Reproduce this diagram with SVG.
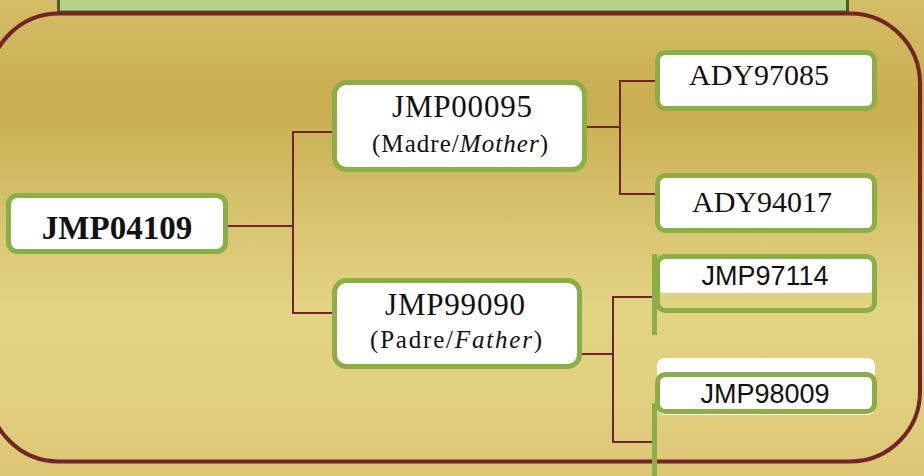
<svg xmlns="http://www.w3.org/2000/svg" width="924" height="476" viewBox="0 0 924 476">
  <defs>
    <linearGradient id="gold" x1="0" y1="0" x2="0" y2="1">
      <stop offset="0" stop-color="#d5bd66"/>
      <stop offset="0.22" stop-color="#c9ad51"/>
      <stop offset="0.45" stop-color="#d7c36e"/>
      <stop offset="0.65" stop-color="#e3d385"/>
      <stop offset="0.85" stop-color="#e1cf7f"/>
      <stop offset="1" stop-color="#dbc675"/>
    </linearGradient>
  </defs>
  <style>
    .box { fill: #ffffff; stroke: #8bae46; stroke-width: 5; }
    .outline { fill: none; stroke: #8bae46; stroke-width: 5; }
    .white { fill: #ffffff; }
    .conn { fill: none; stroke: #722428; stroke-width: 2; }
    .serif { font-family: "Liberation Serif", "Times New Roman", serif; fill: #111111; text-anchor: middle; }
    .sans { font-family: "Liberation Sans", Arial, sans-serif; fill: #111111; text-anchor: middle; }
  </style>

  <g id="background">
    <rect x="0" y="0" width="924" height="476" fill="url(#gold)"/>
    <rect x="58.5" y="-6" width="789" height="18" fill="#b9d28a" stroke="#4b5f2b" stroke-width="3"/>
    <rect x="-11" y="13.5" width="931" height="448" rx="70" ry="70" fill="none" stroke="#722428" stroke-width="4"/>
  </g>

  <g id="connectors">
    <path class="conn" d="M228 226 H293 M293 131 V314 M292 132 H334 M292 313 H334"/>
    <path class="conn" d="M587 127 H620 M620 80 V195 M619 81 H657 M619 194 H657"/>
    <path class="conn" d="M580 354 H613 M613 296 V443 M612 297 H654 M612 442 H654"/>
  </g>

  <g id="node-JMP04109">
    <rect class="box" x="8.5" y="195.5" width="217" height="56" rx="9"/>
    <text class="serif" x="117" y="239" font-size="33" font-weight="bold">JMP04109</text>
  </g>

  <g id="node-JMP00095">
    <rect class="box" x="334.5" y="82.5" width="250" height="87" rx="12"/>
    <text class="serif" x="462" y="117" font-size="31" textLength="140" lengthAdjust="spacing">JMP00095</text>
    <text class="serif" x="460" y="152" font-size="25" textLength="176" lengthAdjust="spacing">(Madre/<tspan font-style="italic">Mother</tspan>)</text>
  </g>

  <g id="node-JMP99090">
    <rect class="box" x="334.5" y="280.5" width="245" height="86" rx="12"/>
    <text class="serif" x="455" y="315" font-size="31" textLength="140" lengthAdjust="spacing">JMP99090</text>
    <text class="serif" x="456" y="348" font-size="25" textLength="172" lengthAdjust="spacing">(Padre/<tspan font-style="italic">Father</tspan>)</text>
  </g>

  <g id="node-ADY97085">
    <rect class="box" x="657.5" y="52.5" width="217" height="56" rx="8"/>
    <text class="serif" x="759" y="85" font-size="30">ADY97085</text>
  </g>

  <g id="node-ADY94017">
    <rect class="box" x="657.5" y="175.5" width="217" height="55" rx="8"/>
    <text class="serif" x="762" y="212" font-size="30">ADY94017</text>
  </g>

  <g id="node-JMP97114">
    <rect class="white" x="658" y="257" width="216" height="36" rx="6"/>
    <rect class="outline" x="657.5" y="256.5" width="217" height="54" rx="8"/>
    <line x1="654.5" y1="254" x2="654.5" y2="335" stroke="#8bae46" stroke-width="5"/>
    <text class="sans" x="765" y="285" font-size="27">JMP97114</text>
  </g>

  <g id="node-JMP98009">
    <rect class="white" x="657" y="358" width="218" height="57" rx="8"/>
    <rect class="outline" x="657.5" y="374.5" width="217" height="37" rx="8"/>
    <line x1="654.5" y1="403" x2="654.5" y2="480" stroke="#8bae46" stroke-width="5"/>
    <text class="sans" x="765" y="403" font-size="27">JMP98009</text>
  </g>
</svg>
